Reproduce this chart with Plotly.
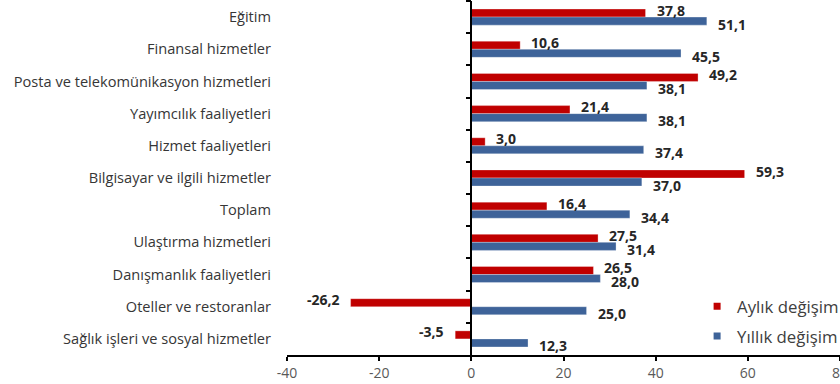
import plotly.graph_objects as go

categories = [
    "Eğitim",
    "Finansal hizmetler",
    "Posta ve telekomünikasyon hizmetleri",
    "Yayımcılık faaliyetleri",
    "Hizmet faaliyetleri",
    "Bilgisayar ve ilgili hizmetler",
    "Toplam",
    "Ulaştırma hizmetleri",
    "Danışmanlık faaliyetleri",
    "Oteller ve restoranlar",
    "Sağlık işleri ve sosyal hizmetler",
]
aylik = [37.8, 10.6, 49.2, 21.4, 3.0, 59.3, 16.4, 27.5, 26.5, -26.2, -3.5]
yillik = [51.1, 45.5, 38.1, 38.1, 37.4, 37.0, 34.4, 31.4, 28.0, 25.0, 12.3]
series_names = ["Aylık değişim", "Yıllık değişim"]
x_ticks = [-40, -20, 0, 20, 40, 60, 80]

RED = "#C00000"
BLUE = "#3E6399"


def fmt(v):
    return f"{v:.1f}".replace(".", ",")


fig = go.Figure()
for name, vals, col in [(series_names[0], aylik, RED), (series_names[1], yillik, BLUE)]:
    fig.add_trace(go.Bar(
        y=categories, x=vals, orientation="h", name=name,
        marker=dict(color=col, line=dict(color="rgba(255,255,255,0.5)", width=0.6)),
        showlegend=False, hoverinfo="x+y",
    ))

# data labels (Excel-style, slightly offset above/below)
annotations = []
for vals, yshift in [(aylik, 7), (yillik, -7)]:
    for cat, v in zip(categories, vals):
        annotations.append(dict(
            x=v, y=cat, xref="x", yref="y", text=fmt(v), showarrow=False,
            xanchor="left" if v >= 0 else "right", yanchor="middle",
            xshift=9 if v >= 0 else -9, yshift=yshift,
            font=dict(family="Open Sans", size=14, color="#262626", weight="bold"),
        ))

# legend entries with small square markers
for name, col in [(series_names[0], RED), (series_names[1], BLUE)]:
    fig.add_trace(go.Scatter(
        x=[None], y=[None], mode="markers", name=name, legendgroup=name,
        marker=dict(symbol="square", size=7, color=col),
        showlegend=True,
    ))

# axis at zero with category boundary ticks
fig.add_trace(go.Scatter(
    y=categories, x=[0] * len(categories), yaxis="y2", mode="markers",
    marker=dict(size=0.1, opacity=0), showlegend=False, hoverinfo="skip",
))

n = len(categories)
fig.update_layout(
    width=840, height=384,
    margin=dict(l=287, r=0, t=1, b=29, autoexpand=False),
    paper_bgcolor="white", plot_bgcolor="white",
    barmode="group", bargap=0.5, bargroupgap=0,
    font=dict(family="Open Sans", color="#404040"),
    annotations=annotations,
    xaxis=dict(
        range=[-40, 80], tickvals=x_ticks, ticktext=[str(t) for t in x_ticks],
        showgrid=False, zeroline=False, showline=True, linecolor="black", linewidth=1.5,
        ticks="outside", ticklen=4, tickcolor="black", tickwidth=1.5,
        tickfont=dict(family="Open Sans", size=14, color="#595959"), automargin=False,
        ticklabeloverflow="allow",
    ),
    yaxis=dict(
        type="category", categoryorder="array", categoryarray=categories,
        range=[n - 0.5, -0.5], showgrid=False, showline=False, zeroline=False,
        ticks="", ticklabelstandoff=15,
        tickfont=dict(family="Open Sans", size=14.6, color="#363636"), automargin=False,
    ),
    yaxis2=dict(
        type="category", categoryorder="array", categoryarray=categories,
        range=[n - 0.5, -0.5], overlaying="y", anchor="free",
        position=(0 - (-40)) / (80 - (-40)),
        showline=True, linecolor="black", linewidth=1.5, showgrid=False, zeroline=False,
        ticks="outside", tickson="boundaries", ticklen=5, tickcolor="black", tickwidth=1.5,
        showticklabels=False,
    ),
    legend=dict(
        x=0.7416, y=0.187, xanchor="left", yanchor="top",
        font=dict(family="Open Sans", size=16.8, color="#404040"),
        bgcolor="rgba(0,0,0,0)", tracegroupgap=5, itemwidth=30,
    ),
)

fig.write_html("out.html", config={"displayModeBar": False},
               post_script="document.body.style.margin='0';")
